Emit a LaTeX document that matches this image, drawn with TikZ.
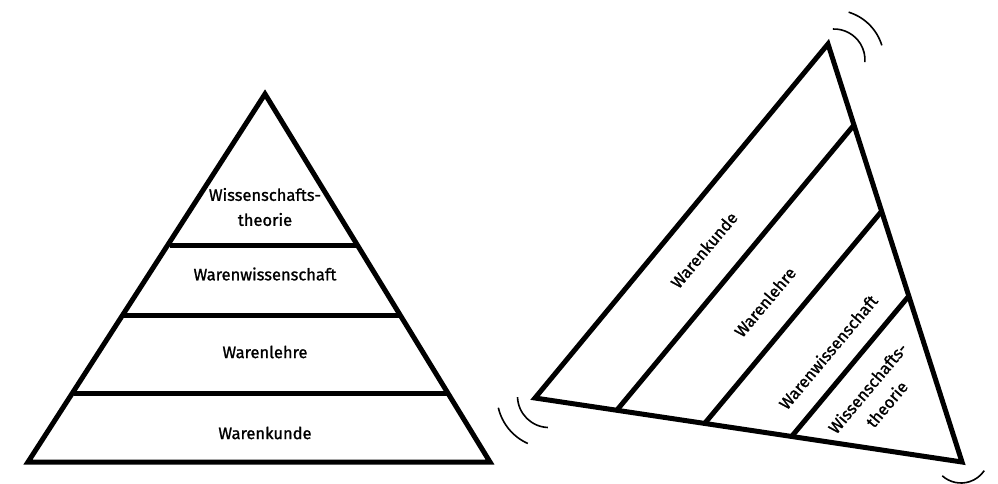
\documentclass[tikz,border=0pt]{standalone}
\usepackage{fontspec}
\setmainfont{Fira Sans}
\newfontfamily\lblfont{Fira Sans}[FakeBold=1.2]
\begin{document}
\begin{tikzpicture}[x=1pt,y=-1pt,
  edge/.style={line width=5pt,line join=miter,line cap=butt},
  wave/.style={line width=1.6pt},
  lbl/.style={font=\lblfont\fontsize{16.5}{25}\selectfont,inner sep=0pt,align=center}]
\useasboundingbox (0,0) rectangle (998,483);
% left pyramid
\coordinate (A) at (265,94);
\coordinate (BL) at (28,462);
\coordinate (BR) at (490,462);
\draw[edge] (A) -- (BL) -- (BR) -- cycle;
\coordinate (h1l) at (170,245); \coordinate (h1r) at (356,245);
\coordinate (h2l) at (124,315); \coordinate (h2r) at (400,315);
\coordinate (h3l) at (74,393);  \coordinate (h3r) at (447,393);
\draw[edge] (h1l) -- (h1r);
\draw[edge] (h2l) -- (h2r);
\draw[edge] (h3l) -- (h3r);
\node[lbl] (l1) at (265,207) {Wissenschafts-\\theorie};
\node[lbl] (l2) at (265,274) {Warenwissenschaft};
\node[lbl] (l3) at (265,352) {Warenlehre};
\node[lbl] (l4) at (265,433) {Warenkunde};
% right tilted triangle
\coordinate (T) at (828,44);
\coordinate (L) at (535,398);
\coordinate (R) at (962,462);
\draw[edge] (T) -- (L) -- (R) -- cycle;
\coordinate (d1a) at (617,410); \coordinate (d1b) at (854,125);
\coordinate (d2a) at (705,423); \coordinate (d2b) at (881,212);
\coordinate (d3a) at (792,436); \coordinate (d3b) at (908,297);
\draw[edge] (d1a) -- (d1b);
\draw[edge] (d2a) -- (d2b);
\draw[edge] (d3a) -- (d3b);
\node[lbl,rotate=50] (r1) at (704,250) {Warenkunde};
\node[lbl,rotate=50] (r2) at (765,302) {Warenlehre};
\node[lbl,rotate=50] (r3) at (828,352) {Warenwissenschaft};
\node[lbl,rotate=50] (r4) at (877,396) {Wissenschafts-\\theorie};
% wobble arcs
\coordinate (ct) at (834,60);
\coordinate (cl) at (549,396);
\coordinate (cr) at (961,455);
\draw[wave] ([shift={(-92:31)}]ct) arc[start angle=-92,end angle=4,radius=31];
\draw[wave] ([shift={(-73:50)}]ct) arc[start angle=-73,end angle=-17,radius=50];
\draw[wave] ([shift={(-182:31.5)}]cl) arc[start angle=-182,end angle=-268,radius=31.5];
\draw[wave] ([shift={(-193:52)}]cl) arc[start angle=-193,end angle=-246,radius=52];
\draw[wave] ([shift={(-228:28)}]cr) arc[start angle=-228,end angle=-326,radius=28];
\end{tikzpicture}
\end{document}
